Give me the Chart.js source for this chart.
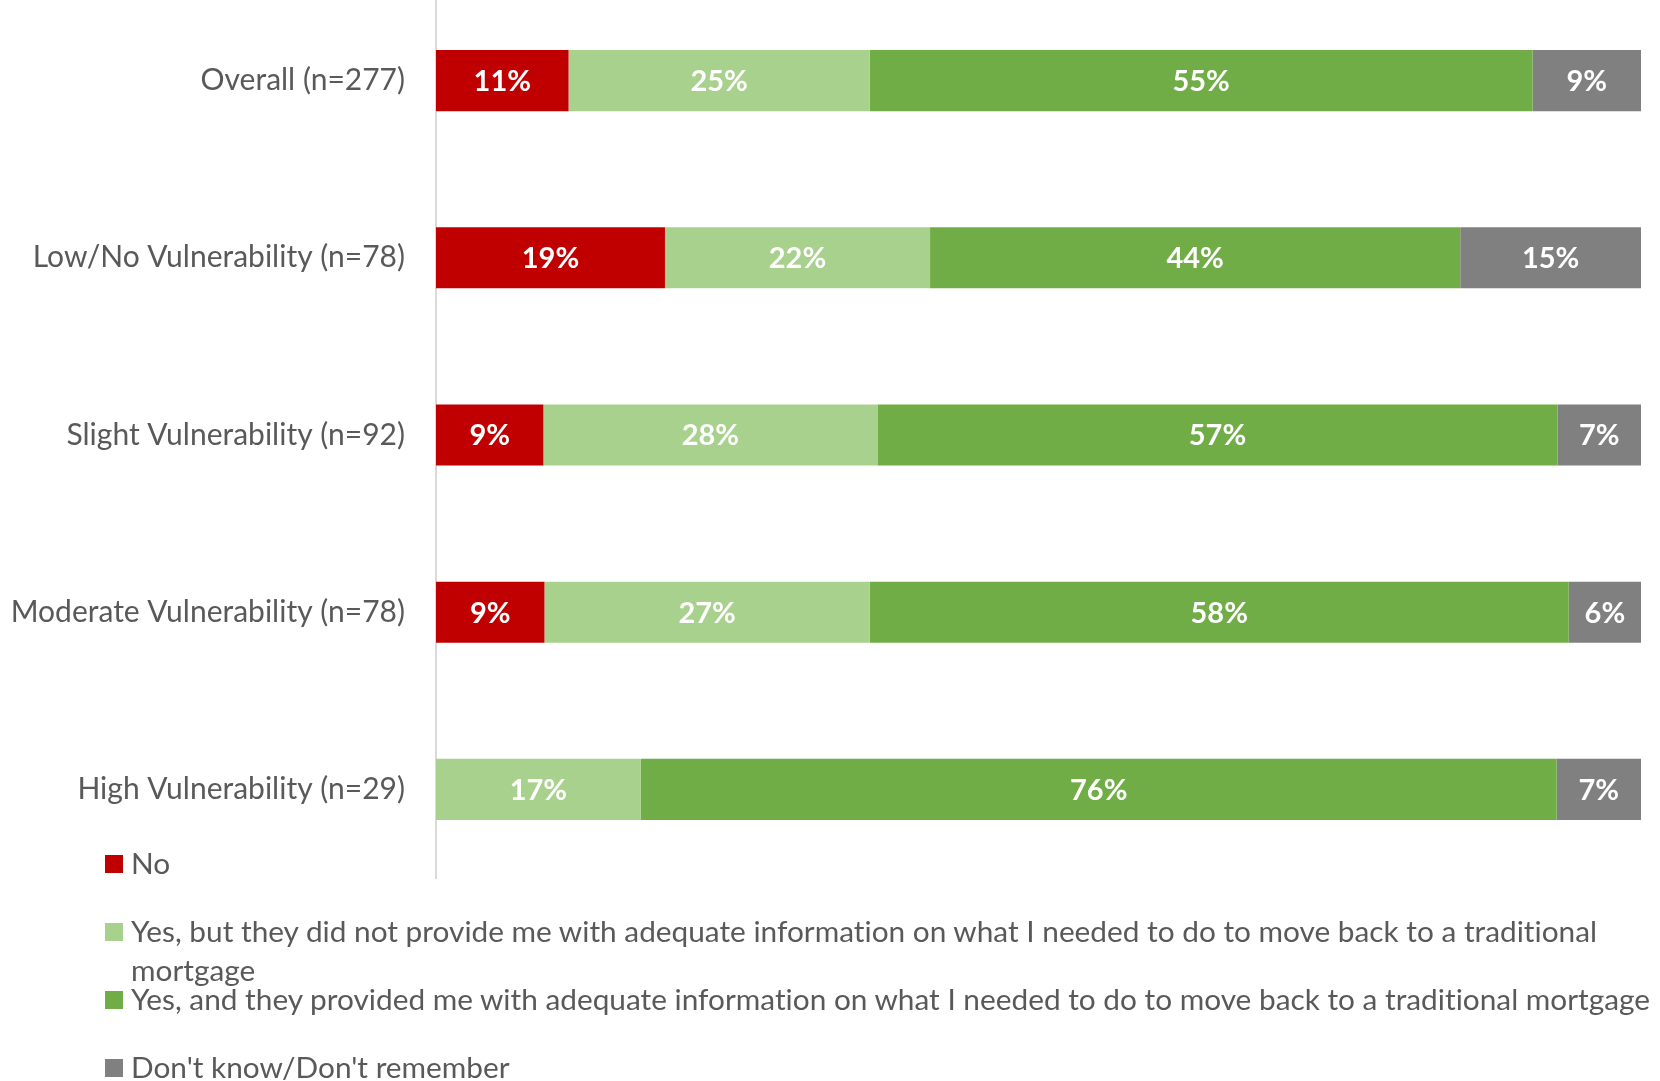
<!DOCTYPE html>
<html>
<head>
<meta charset="utf-8">
<script src="https://cdn.jsdelivr.net/npm/chart.js@4/dist/chart.umd.min.js"></script>
<style>
  html, body { margin: 0; padding: 0; background: #fff; }
  #wrap { position: relative; width: 1660px; height: 1081px; overflow: hidden; }
  #chartBox { position: absolute; left: 0; top: -8px; width: 1660px; height: 1090px; }
  #legend { position: absolute; left: 0; top: 0; font-family: Lato, "Open Sans", sans-serif; font-size: 29.8px; color: #595959; font-variant-ligatures: none; }
  .item { position: absolute; left: 105px; width: 1580px; }
  .item .box { position: absolute; left: 0; top: 12px; width: 18px; height: 18px; }
  .item .txt { margin-left: 26px; line-height: 39px; width: 1535px; }
</style>
</head>
<body>
<div id="wrap">
  <div id="chartBox"><canvas id="barChart"></canvas></div>
  <div id="legend"></div>
</div>
<script>
var categories = ['Overall (n=277)', 'Low/No Vulnerability (n=78)', 'Slight Vulnerability (n=92)', 'Moderate Vulnerability (n=78)', 'High Vulnerability (n=29)'];
var seriesNames = ['No',
    'Yes, but they did not provide me with adequate information on what I needed to do to move back to a traditional mortgage',
    'Yes, and they provided me with adequate information on what I needed to do to move back to a traditional mortgage',
    "Don't know/Don't remember"];
var noVals = [11, 19, 9, 9, 0];
var yesNoInfoVals = [25, 22, 28, 27, 17];
var yesInfoVals = [55, 44, 57, 58, 76];
var dontKnowVals = [9, 15, 7, 6, 7];
var colors = ['#C00000', '#A9D18E', '#70AD47', '#808080'];

var raw = [noVals, yesNoInfoVals, yesInfoVals, dontKnowVals];
// 100% stacked: share of each row total
var totals = categories.map(function(c, i){
    return raw.reduce(function(s, arr){ return s + arr[i]; }, 0);
});

var datasets = raw.map(function(arr, k){
    return {
        label: seriesNames[k],
        data: arr.map(function(v, i){ return v / totals[i] * 100; }),
        raw: arr,
        backgroundColor: colors[k],
        borderWidth: 0,
        barPercentage: 0.345,
        categoryPercentage: 1
    };
});

// white percent labels in the middle of each segment
var barLabels = {
    id: 'barLabels',
    afterDatasetsDraw: function(chart){
        var ctx = chart.ctx;
        ctx.save();
        ctx.fillStyle = '#ffffff';
        ctx.font = 'bold 29px Lato, "Open Sans", sans-serif';
        ctx.textAlign = 'center';
        ctx.textBaseline = 'middle';
        chart.data.datasets.forEach(function(ds, k){
            var meta = chart.getDatasetMeta(k);
            meta.data.forEach(function(bar, i){
                if (!ds.raw[i]) return;
                ctx.fillText(ds.raw[i] + '%', (bar.x + bar.base) / 2, bar.y + 1);
            });
        });
        ctx.restore();
    }
};

var ctx = document.getElementById('barChart');
var barChart = new Chart(ctx, {
    type: 'bar',
    data: { labels: categories, datasets: datasets },
    options: {
        indexAxis: 'y',
        responsive: true,
        maintainAspectRatio: false,
        animation: false,
        layout: { padding: { left: 0, right: 19, top: 0, bottom: 204 } },
        plugins: { legend: { display: false }, tooltip: { enabled: false } },
        scales: {
            x: { stacked: true, min: 0, max: 100, display: false },
            y: {
                stacked: true,
                afterFit: function(scale){
                    scale.width = 436;
                    scale.paddingTop = 0;
                    scale.paddingBottom = 0;
                },
                grid: { display: false, drawTicks: false },
                border: { display: true, color: '#d9d9d9', width: 2 },
                ticks: {
                    padding: 31,
                    color: '#595959',
                    font: { family: 'Lato, "Open Sans", sans-serif', size: 30 }
                }
            }
        }
    },
    plugins: [barLabels]
});

// legend list under the plot, one slot per series
var legendTop = 863;
var slot = 68;
var legend = document.getElementById('legend');
seriesNames.forEach(function(name, k){
    var item = document.createElement('div');
    item.className = 'item';
    item.style.top = (legendTop - 20 + k * slot) + 'px';
    item.innerHTML = '<div class="box" style="background:' + colors[k] + '"></div><div class="txt"></div>';
    item.querySelector('.txt').textContent = name;
    legend.appendChild(item);
});
</script>
</body>
</html>
